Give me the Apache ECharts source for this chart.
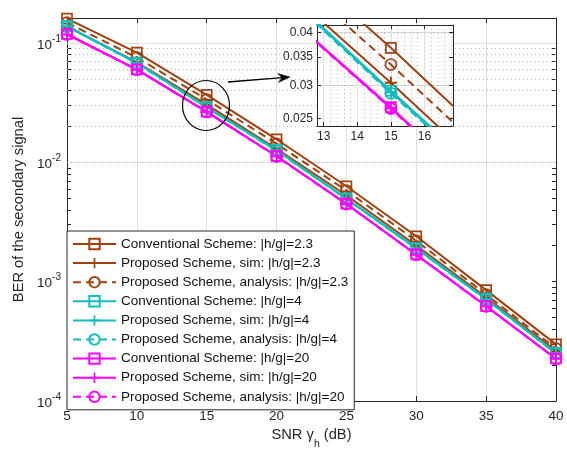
<!DOCTYPE html>
<html>
<head>
<meta charset="utf-8">
<script src="https://cdn.jsdelivr.net/npm/echarts@6/dist/echarts.min.js"></script>
<style>html,body{margin:0;padding:0;background:#fff}#c{width:567px;height:451px}</style>
</head>
<body>
<div id="c"></div>
<script>
// ---- data ----
const snr = [5, 10, 15, 20, 25, 30, 35, 40];
const conv23 = [0.160, 0.083, 0.0368, 0.0156, 0.0063, 0.0024, 0.00085, 0.000298];
const sim23  = [0.137, 0.0690, 0.0304, 0.0130, 0.0053, 0.00201, 0.00074, 0.000262];
const ana23  = [0.148, 0.0755, 0.0336, 0.0143, 0.0058, 0.00220, 0.00078, 0.000275];
const conv4  = [0.139, 0.0684, 0.0291, 0.0127, 0.00499, 0.00192, 0.00072, 0.000254];
const sim4   = [0.138, 0.0680, 0.0289, 0.0126, 0.00495, 0.00190, 0.000713, 0.000251];
const ana4   = [0.137, 0.0676, 0.0287, 0.0125, 0.00492, 0.00189, 0.000708, 0.000249];
const conv20 = [0.119, 0.0601, 0.0266, 0.0113, 0.00450, 0.00169, 0.000625, 0.000227];
const sim20  = [0.118, 0.0598, 0.0265, 0.01125, 0.00448, 0.00168, 0.000622, 0.000226];
const ana20  = [0.118, 0.0597, 0.0264, 0.0112, 0.00447, 0.00168, 0.000621, 0.000225];
const names = [
  'Conventional Scheme: |h/g|=2.3', 'Proposed Scheme, sim: |h/g|=2.3', 'Proposed Scheme, analysis: |h/g|=2.3',
  'Conventional Scheme: |h/g|=4', 'Proposed Scheme, sim: |h/g|=4', 'Proposed Scheme, analysis: |h/g|=4',
  'Conventional Scheme: |h/g|=20', 'Proposed Scheme, sim: |h/g|=20', 'Proposed Scheme, analysis: |h/g|=20'
];
const xTicks = [5, 10, 15, 20, 25, 30, 35, 40];
const yMajor = [1e-4, 1e-3, 1e-2, 1e-1];
const insetXTicks = [13, 14, 15, 16];
const insetYTicks = [0.025, 0.03, 0.035, 0.04];

// ---- styling ----
const BROWN = '#A2410E', CYAN = '#12BDBD', MAG = '#FF00FF';
const AX = '#262626';
const FONT = '"Liberation Sans", Arial, Helvetica, sans-serif';
const values = [conv23, sim23, ana23, conv4, sim4, ana4, conv20, sim20, ana20];
const colors = [BROWN, BROWN, BROWN, CYAN, CYAN, CYAN, MAG, MAG, MAG];
const kinds = ['conv', 'sim', 'ana', 'conv', 'sim', 'ana', 'conv', 'sim', 'ana'];
const PLUS = 'path://M5,0H7V5H12V7H7V12H5V7H0V5H5Z';

const Y_MIN = 1e-4, Y_MAX = 0.162;
const IY_MIN = 0.024, IY_MAX = 0.0417;
const IX_MIN = 12.8, IX_MAX = 16.85;

// minor log values
const yMinor = [];
for (let e = -4; e <= -1; e++) for (let k = 2; k <= 9; k++) { const v = k * Math.pow(10, e); if (v < Y_MAX) yMinor.push(+v.toPrecision(3)); }
const insetYMinor = [];
for (let v = 24; v <= 41; v++) { const y = v / 1000; if (insetYTicks.indexOf(y) < 0) insetYMinor.push(y); }
const insetXMinor = [];
for (let v = 130; v <= 168; v += 2) { const x = v / 10; if (insetXTicks.indexOf(x) < 0) insetXMinor.push(x); }

function makeSeries(i, xi, yi, z) {
  const c = colors[i], k = kinds[i];
  const s = {
    name: names[i], type: 'line', xAxisIndex: xi, yAxisIndex: yi, z: z,
    data: snr.map((x, j) => [x, values[i][j]]),
    lineStyle: { color: c, width: 2, type: k === 'ana' ? [8, 5] : 'solid' },
    animation: false, showAllSymbol: true, clip: true,
    emphasis: { disabled: true }
  };
  if (k === 'conv') {
    s.symbol = 'rect'; s.symbolSize = 10;
    s.itemStyle = { color: 'rgba(255,255,255,0)', borderColor: c, borderWidth: 1.7 };
  } else if (k === 'sim') {
    s.symbol = PLUS; s.symbolSize = 12;
    s.itemStyle = { color: c, borderWidth: 0 };
  } else {
    s.symbol = 'circle'; s.symbolSize = 11;
    s.itemStyle = { color: 'rgba(255,255,255,0)', borderColor: c, borderWidth: 1.7 };
  }
  return s;
}

const gridLineSeries = (xi, yi, z, hMajor, hMinor, vMajor, vMinor) => ({
  type: 'line', xAxisIndex: xi, yAxisIndex: yi, z: z, data: [], silent: true, animation: false,
  markLine: {
    silent: true, animation: false, symbol: ['none', 'none'], label: { show: false }, z: z,
    data: [].concat(
      hMajor.map(v => ({ yAxis: v, lineStyle: { color: '#dedede', width: 1, type: 'solid' } })),
      hMinor.map(v => ({ yAxis: v, lineStyle: { color: '#b8b8b8', width: 1, type: [1, 3] } })),
      vMajor.map(v => ({ xAxis: v, lineStyle: { color: '#dedede', width: 1, type: 'solid' } })),
      vMinor.map(v => ({ xAxis: v, lineStyle: { color: '#b8b8b8', width: 1, type: [1, 3] } }))
    )
  }
});

const series = [];
series.push(gridLineSeries(0, 0, 1, [1e-3, 1e-2, 1e-1], yMinor, [], []));
for (let i = 0; i < 9; i++) series.push(makeSeries(i, 0, 0, 2));
series.push(gridLineSeries(2, 2, 11, insetYTicks, insetYMinor, insetXTicks, insetXMinor));
for (let i = 0; i < 9; i++) series.push(makeSeries(i, 2, 2, 12));

const supFmt = v => { const e = Math.round(Math.log10(v)); return '{b|10}{s|' + e + '}'; };

const option = {
  backgroundColor: '#fff',
  animation: false,
  textStyle: { fontFamily: FONT },
  grid: [
    { left: 67, right: 11, top: 18, bottom: 50, show: false, outerBoundsMode: 'none', containLabel: false },
    { left: 317, top: 25, width: 136, height: 101, show: true, backgroundColor: '#fff', borderWidth: 0, z: 10,
      outerBoundsMode: 'none', containLabel: false }
  ],
  xAxis: [
    { type: 'value', gridIndex: 0, min: 5, max: 40, interval: 5,
      name: '{a|SNR }{g|γ}{sub|h}{a| (dB)}', nameLocation: 'middle', nameGap: 26,
      nameTextStyle: { rich: {
        a: { fontSize: 14.7, color: AX, fontFamily: FONT, lineHeight: 22, verticalAlign: 'top' },
        g: { fontSize: 14.7, color: AX, fontFamily: FONT, lineHeight: 22, verticalAlign: 'top' },
        sub: { fontSize: 10.5, color: AX, fontFamily: FONT, lineHeight: 10, verticalAlign: 'bottom' } } },
      axisLine: { show: true, lineStyle: { color: AX, width: 1 } },
      axisTick: { show: true, inside: true, length: 5, lineStyle: { color: AX } },
      axisLabel: { color: AX, fontSize: 13.5, margin: 8, fontFamily: FONT },
      splitLine: { show: true, lineStyle: { color: '#dedede', width: 1 } } },
    { type: 'value', gridIndex: 0, min: 5, max: 40, interval: 5, position: 'top',
      axisLine: { show: true, onZero: false, lineStyle: { color: AX, width: 1 } },
      axisTick: { show: true, inside: true, length: 5, lineStyle: { color: AX } },
      axisLabel: { show: false }, splitLine: { show: false } },
    { type: 'value', gridIndex: 1, min: IX_MIN, max: IX_MAX, z: 11,
      axisLine: { show: true, onZero: false, lineStyle: { color: AX, width: 1 } },
      axisTick: { show: true, inside: true, length: 4, customValues: insetXTicks, lineStyle: { color: AX } },
      axisLabel: { color: AX, fontSize: 12, margin: 5, customValues: insetXTicks, fontFamily: FONT },
      splitLine: { show: false } },
    { type: 'value', gridIndex: 1, min: IX_MIN, max: IX_MAX, position: 'top', z: 11,
      axisLine: { show: true, onZero: false, lineStyle: { color: AX, width: 1 } },
      axisTick: { show: true, inside: true, length: 4, customValues: insetXTicks, lineStyle: { color: AX } },
      axisLabel: { show: false }, splitLine: { show: false } }
  ],
  yAxis: [
    { type: 'log', gridIndex: 0, min: Y_MIN, max: Y_MAX, logBase: 10,
      name: 'BER of the secondary signal', nameLocation: 'middle', nameGap: 37,
      nameTextStyle: { fontSize: 14.7, color: AX, fontFamily: FONT },
      axisLine: { show: true, onZero: false, lineStyle: { color: AX, width: 1 } },
      axisTick: { show: true, inside: true, length: 4, customValues: yMajor.concat(yMinor), lineStyle: { color: AX } },
      axisLabel: { color: AX, margin: 6, customValues: yMajor, formatter: supFmt,
        rich: { b: { fontSize: 13.5, color: AX, fontFamily: FONT, lineHeight: 18, verticalAlign: 'bottom' },
                s: { fontSize: 10, color: AX, fontFamily: FONT, lineHeight: 12, verticalAlign: 'top' } } },
      splitLine: { show: false } },
    { type: 'log', gridIndex: 0, min: Y_MIN, max: Y_MAX, logBase: 10, position: 'right',
      axisLine: { show: true, onZero: false, lineStyle: { color: AX, width: 1 } },
      axisTick: { show: true, inside: true, length: 4, customValues: yMajor.concat(yMinor), lineStyle: { color: AX } },
      axisLabel: { show: false }, splitLine: { show: false } },
    { type: 'log', gridIndex: 1, min: IY_MIN, max: IY_MAX, logBase: 10, z: 11,
      axisLine: { show: true, onZero: false, lineStyle: { color: AX, width: 1 } },
      axisTick: { show: true, inside: true, length: 4, customValues: insetYTicks, lineStyle: { color: AX } },
      axisLabel: { color: AX, fontSize: 12, margin: 4, customValues: insetYTicks, fontFamily: FONT,
        formatter: v => String(+(+v).toFixed(3)) },
      splitLine: { show: false } },
    { type: 'log', gridIndex: 1, min: IY_MIN, max: IY_MAX, logBase: 10, position: 'right', z: 11,
      axisLine: { show: true, onZero: false, lineStyle: { color: AX, width: 1 } },
      axisTick: { show: true, inside: true, length: 4, customValues: insetYTicks, lineStyle: { color: AX } },
      axisLabel: { show: false }, splitLine: { show: false } }
  ],
  legend: {
    data: names, orient: 'vertical', left: 67, top: 231,
    backgroundColor: '#fff', borderColor: AX, borderWidth: 1, borderRadius: 0,
    padding: [6, 6, 6, 5], itemWidth: 43, itemHeight: 13, itemGap: 5.1,
    textStyle: { fontSize: 13.5, color: '#111', fontFamily: FONT },
    selectedMode: false, z: 20
  },
  graphic: [
    { type: 'ellipse', shape: { cx: 206, cy: 105.5, rx: 23.5, ry: 25 }, z: 30,
      style: { fill: 'none', stroke: '#000', lineWidth: 1.2 } },
    { type: 'line', shape: { x1: 228, y1: 82, x2: 282, y2: 77.6 }, z: 30,
      style: { stroke: '#000', lineWidth: 1.3 } },
    { type: 'polygon', shape: { points: [[290, 77], [278.4, 82.45], [282, 77.64], [277.7, 73.47]] }, z: 30,
      style: { fill: '#000', stroke: '#000', lineWidth: 0.5 } }
  ],
  series: series
};

const chart = echarts.init(document.getElementById('c'), null, { renderer: 'canvas' });
chart.setOption(option);
</script>
</body>
</html>
